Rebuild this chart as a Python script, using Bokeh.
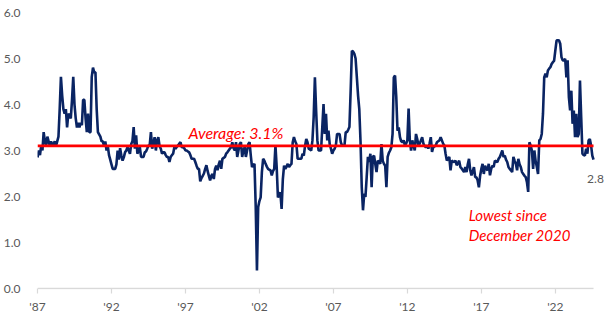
from bokeh.plotting import figure
from bokeh.models import Range1d, FixedTicker, NumeralTickFormatter, Label, ColumnDataSource
from bokeh.embed import file_html
from bokeh.resources import INLINE

# Monthly series, Jan 1987 onward
start_year = 1987
values = [
    2.85, 3.0, 2.9, 3.1, 3.0, 3.4, 3.2, 3.1, 3.3, 3.2, 3.1, 3.2,
    3.1, 3.15, 3.2, 3.1, 3.2, 3.3, 3.9, 4.6, 4.2, 3.9, 3.8, 3.9,
    3.5, 3.8, 3.75, 3.7, 4.1, 4.6, 4.0, 3.7, 3.5, 3.6, 3.5, 3.6,
    3.55, 4.1, 4.1, 3.7, 3.4, 3.8, 3.4, 3.4, 4.6, 4.8, 4.7, 4.7,
    3.9, 3.4, 3.35, 3.3, 3.2, 3.2, 3.1, 3.2, 3.0, 3.1, 2.9, 2.8,
    2.7, 2.6, 2.6, 2.6, 2.7, 3.0, 2.8, 3.05, 2.89, 2.78, 2.85, 2.96,
    3.0, 3.07, 3.0, 2.93, 3.14, 3.2, 3.51, 3.04, 3.33, 2.93, 3.0, 3.07,
    2.86, 2.86, 2.86, 2.96, 2.98, 3.04, 3.11, 3.11, 3.40, 3.04, 3.15, 3.29,
    3.0, 3.22, 3.29, 3.1, 3.04, 2.93, 2.96, 2.96, 2.9, 2.86, 2.86, 2.75,
    2.86, 2.9, 2.93, 3.07, 3.04, 3.08, 3.11, 3.15, 3.18, 3.07, 3.07, 3.05,
    3.0, 3.0, 2.98, 2.96, 2.9, 2.82, 2.82, 2.82, 2.75, 2.67, 2.6, 2.6,
    2.33, 2.4, 2.45, 2.5, 2.6, 2.68, 2.55, 2.45, 2.35, 2.45, 2.49, 2.38,
    2.6, 2.67, 2.57, 2.7, 2.78, 2.60, 2.82, 2.84, 2.86, 2.93, 2.96, 3.0,
    3.04, 3.07, 3.18, 3.05, 3.0, 3.18, 2.86, 3.0, 3.14, 3.18, 2.86, 3.0,
    3.07, 2.86, 3.0, 3.14, 3.18, 2.89, 2.64, 2.68, 2.71, 1.77, 0.39, 1.77,
    1.9, 1.98, 2.53, 2.82, 2.78, 2.71, 2.65, 2.60, 2.58, 2.57, 2.46, 2.55,
    2.60, 3.11, 2.64, 1.98, 2.05, 2.09, 1.73, 2.38, 2.67, 2.60, 2.65, 2.71,
    2.64, 2.68, 2.71, 3.18, 3.29, 3.2, 3.14, 2.82, 2.82, 2.82, 2.82, 2.93,
    2.89, 3.1, 3.25, 3.18, 3.04, 3.02, 3.0, 3.22, 3.72, 4.59, 3.87, 3.22,
    3.0, 3.0, 3.0, 3.51, 4.01, 3.36, 3.80, 3.22, 3.43, 3.14, 3.04, 2.93,
    3.0, 3.04, 3.11, 3.36, 3.36, 3.36, 3.18, 3.11, 3.11, 3.11, 3.40, 3.40,
    3.45, 3.51, 4.30, 5.17, 5.15, 5.10, 5.0, 4.6, 4.2, 3.9, 3.2, 2.2,
    1.70, 2.06, 1.99, 2.42, 2.86, 2.75, 2.93, 2.20, 2.86, 2.89, 2.7, 2.53,
    2.78, 2.75, 2.71, 3.14, 2.78, 2.71, 2.67, 2.20, 2.86, 2.95, 3.0, 3.07,
    3.36, 4.59, 4.63, 4.16, 3.43, 3.5, 3.29, 3.2, 3.18, 3.22, 3.11, 3.15,
    3.22, 3.91, 3.22, 3.0, 3.22, 3.1, 3.0, 3.36, 3.25, 3.11, 3.15, 3.22,
    3.29, 3.15, 3.1, 3.07, 3.11, 3.04, 3.15, 3.29, 2.97, 3.07, 3.09, 3.11,
    3.18, 3.2, 3.22, 3.29, 3.22, 3.15, 3.11, 2.93, 2.78, 2.82, 2.86, 2.57,
    2.78, 2.76, 2.75, 2.78, 2.68, 2.72, 2.78, 2.64, 2.61, 2.57, 2.53, 2.64,
    2.53, 2.7, 2.82, 2.57, 2.46, 2.55, 2.64, 2.42, 2.42, 2.35, 2.2, 2.45,
    2.6, 2.71, 2.49, 2.67, 2.6, 2.57, 2.71, 2.46, 2.6, 2.67, 2.64, 2.78,
    2.76, 2.75, 2.82, 2.86, 2.93, 3.0, 2.86, 2.89, 2.8, 2.75, 2.64, 2.6,
    2.57, 2.53, 2.86, 2.78, 2.71, 2.57, 2.82, 2.7, 2.64, 2.53, 2.49, 2.45,
    2.42, 2.31, 2.1, 3.18, 3.11, 3.0, 2.60, 3.0, 2.78, 2.64, 2.49, 3.22,
    3.25, 3.36, 3.80, 4.59, 4.67, 4.59, 4.74, 4.78, 4.81, 4.88, 4.92, 4.95,
    5.17, 5.39, 5.4, 5.39, 5.32, 5.03, 4.96, 4.96, 4.99, 4.59, 4.96, 4.16,
    3.87, 4.30, 3.58, 3.87, 3.29, 3.80, 3.29, 3.36, 4.52, 3.72, 2.93, 2.9,
    2.89, 3.04, 2.93, 3.22, 3.25, 3.11, 2.89, 2.8,
]
average = 3.1
latest_label = "2.8"
tick_years = [1987, 1992, 1997, 2002, 2007, 2012, 2017, 2022]
tick_labels = ["'87", "'92", "'97", "'02", "'07", "'12", "'17", "'22"]
y_ticks = [0, 1, 2, 3, 4, 5, 6]

x = [start_year + i / 12 for i in range(len(values))]
src = ColumnDataSource(dict(x=x, y=values))
x_end = x[-1]

FONT = "Lato"
GREY = "#595959"
PX_PER_YEAR = 557.0 / (x_end - start_year)   # frame spans 36..593 for the data
PX_PER_UNIT = 46.0

p = figure(width=612, height=326, output_backend="svg", toolbar_location=None,
           x_range=Range1d(start_year, x_end + 19.0 / PX_PER_YEAR),
           y_range=Range1d(-1.0 / PX_PER_UNIT, 6),
           min_border_left=36, min_border_right=0, min_border_top=12,
           min_border_bottom=37)
p.outline_line_color = None
p.grid.visible = False
p.background_fill_color = "white"
p.border_fill_color = "white"

p.yaxis.ticker = FixedTicker(ticks=y_ticks)
p.yaxis.formatter = NumeralTickFormatter(format="0.0")
p.yaxis.axis_line_color = None
p.yaxis.major_tick_line_color = None
p.yaxis.minor_tick_line_color = None
p.yaxis.major_label_text_color = GREY
p.yaxis.major_label_text_font = FONT
p.yaxis.major_label_text_font_size = "12px"
p.yaxis.major_label_standoff = 11

p.xaxis.ticker = FixedTicker(ticks=tick_years)
p.xaxis.major_label_overrides = {y: l for y, l in zip(tick_years, tick_labels)}
p.xaxis.axis_line_color = None
p.xaxis.major_tick_line_color = "#d9d9d9"
p.xaxis.major_tick_line_width = 1.2
p.xaxis.major_tick_out = 4
p.xaxis.major_tick_in = 1
p.xaxis.minor_tick_line_color = None
p.xaxis.major_label_text_color = GREY
p.xaxis.major_label_text_font = FONT
p.xaxis.major_label_text_font_size = "12px"
p.xaxis.major_label_standoff = 5

# axis baseline only under the data span
p.line([start_year, x_end], [0, 0], line_color="#d9d9d9", line_width=1.5)

p.line("x", "y", source=src, line_color="#0a2463", line_width=2.6)
p.line([start_year, x_end], [average, average], line_color="#ff0000", line_width=2.6)

p.add_layout(Label(x=1997.2, y=3.40, text=f"Average: {average}%", text_color="#ff0000",
                   text_font=FONT, text_font_style="italic", text_font_size="16px",
                   text_baseline="alphabetic"))
p.add_layout(Label(x=2016.15, y=1.60, text="Lowest since", text_color="#ff0000",
                   text_font=FONT, text_font_style="italic", text_font_size="15px",
                   text_baseline="alphabetic"))
p.add_layout(Label(x=2016.15, y=1.17, text="December 2020", text_color="#ff0000",
                   text_font=FONT, text_font_style="italic", text_font_size="15px",
                   text_baseline="alphabetic"))
p.add_layout(Label(x=2024.15, y=2.37, text=latest_label, text_color=GREY,
                   text_font=FONT, text_font_size="12px", text_baseline="alphabetic"))

open("out.html", "w").write(file_html(p, INLINE))
